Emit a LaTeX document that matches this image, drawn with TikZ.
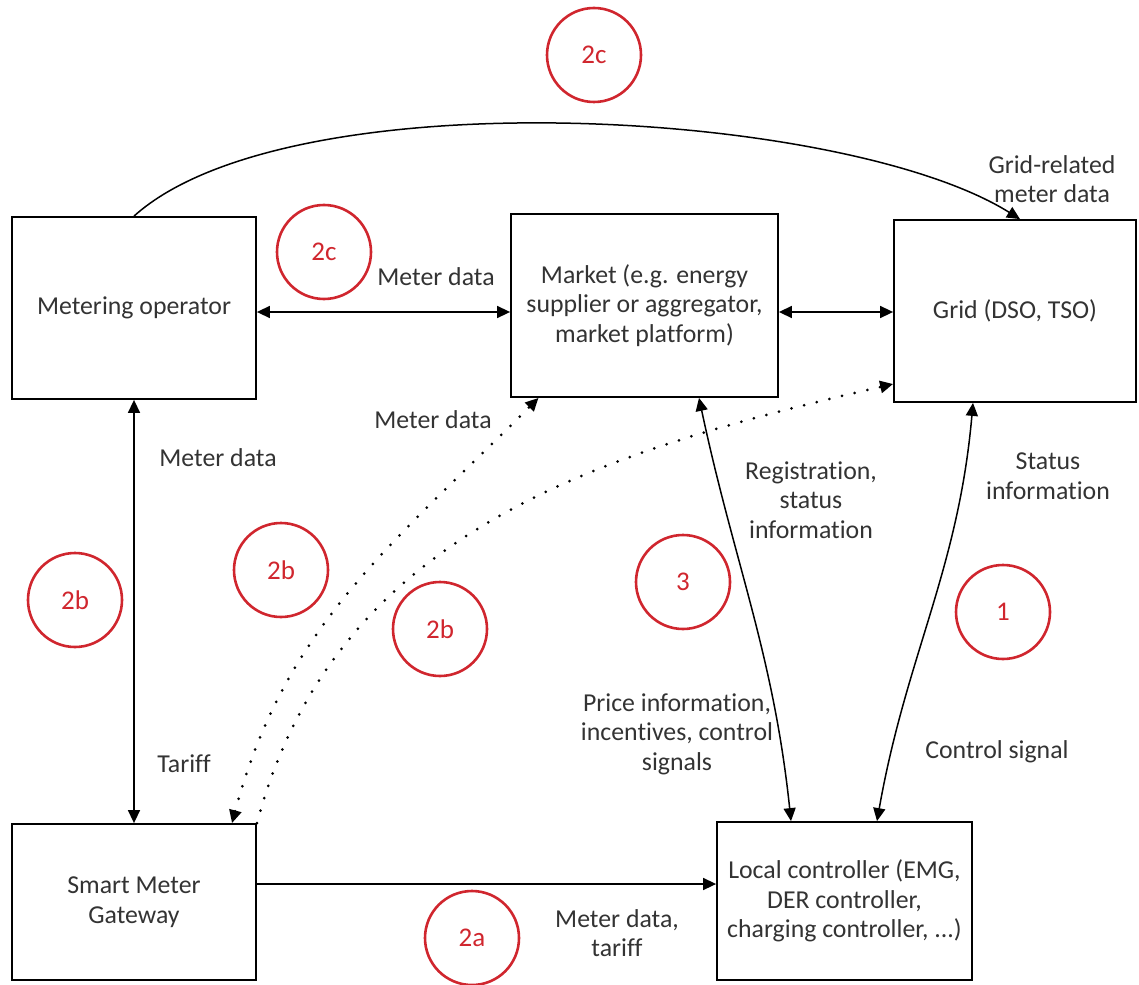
\documentclass[tikz,border=0pt]{standalone}
\usepackage{fontspec}
\setmainfont{Carlito}[Ligatures=NoCommon]
\usetikzlibrary{arrows.meta}

\definecolor{labelgray}{HTML}{333333}
\definecolor{markred}{HTML}{D0262E}

\begin{document}
\begin{tikzpicture}[x=0.5pt,y=-0.5pt,
    font=\fontsize{12.9}{14.8}\selectfont,
    >={Triangle[length=6.5pt,width=6pt]},
    dotline/.style={line width=1.5pt,dash pattern=on 0pt off 6.5pt,line cap=round}]

        \useasboundingbox (0,0) rectangle (1139,984);

        % actors
        \begin{scope}[every node/.style={draw,line width=0.9pt,inner sep=0pt,align=center,text=labelgray}]
          \node[minimum width=122pt,minimum height=91pt]   (mo)   at (134,308)    {Metering operator};
          \node[minimum width=133.5pt,minimum height=91.5pt] (mkt) at (644.5,305.5) {Market (e.g. energy\\supplier or aggregator,\\market platform)};
          \node[minimum width=121pt,minimum height=91pt]   (grid) at (1015,311)   {Grid (DSO, TSO)};
          \node[minimum width=122pt,minimum height=78pt]   (smg)  at (134,902)    {Smart Meter\\Gateway};
          \node[minimum width=127.5pt,minimum height=79pt] (lc)   at (844.5,901)  {Local controller (EMG,\\DER controller,\\charging controller, ...)};
        \end{scope}

        % flows
        \begin{scope}[every edge/.style={draw,line width=0.75pt}]
          \path ([yshift=-2pt]mo.east) edge[<->] ([yshift=-3.25pt]mkt.west);
          \path ([yshift=-3.25pt]mkt.east) edge[<->] ([yshift=-0.5pt]grid.west);
          \path (mo.north) edge[->,out=42,in=148,looseness=0.6] ([xshift=2.5pt]grid.north);
          \path (mo.south) edge[<->] (smg.north);
          \path ([yshift=9pt]smg.east) edge[->] ([yshift=8.5pt]lc.west);
          \path ([xshift=27.25pt]mkt.south) edge[<->,out=-78,in=96] ([xshift=-26.75pt]lc.north);
          \path ([xshift=-21pt]grid.south) edge[<->,out=-95,in=80] ([xshift=16.25pt]lc.north);
          \path ([xshift=49pt]smg.north) edge[<->,dotline,out=75,in=225] ([xshift=-53pt]mkt.south);
          \path (smg.north east) edge[->,dotline,out=75,in=193] ([yshift=-36.5pt]grid.west);
        \end{scope}

        % labels
        \begin{scope}[every node/.style={align=center,inner sep=1pt,text=labelgray}]
          \node (gridmd)  at (1052,179) {Grid-related\\meter data};
          \node (mdtop)   at (436,277)  {Meter data};
          \node (mddot)   at (433,420)  {Meter data};
          \node (mdleft)  at (218,458)  {Meter data};
          \node (tariff)  at (184,764)  {Tariff};
          \node (reg)     at (811,500)  {Registration,\\status\\information};
          \node (price)   at (677,734)  {Price information,\\incentives, control\\signals};
          \node (status)  at (1048,476) {Status\\information};
          \node (ctrl)    at (997,752)  {Control signal};
          \node (mdtar)   at (617,933)  {Meter data,\\tariff};
        \end{scope}

        % use case marks
        \begin{scope}[every node/.style={circle,draw=markred,text=markred,line width=1.3pt,
            minimum size=47pt,inner sep=0pt,font=\fontsize{13.5}{16}\selectfont}]
          \node (c2ctop)   at (594,55)  {2c};
          \node (c2cleft)  at (324,252) {2c};
          \node (c2bleft)  at (75,600)  {2b};
          \node (c2bmid)   at (281,570) {2b};
          \node (c2bright) at (440,629) {2b};
          \node (c3)       at (683,582) {3};
          \node (c1)       at (1003,612) {1};
          \node (c2a)      at (472,938) {2a};
        \end{scope}

      \end{tikzpicture}
\end{document}
